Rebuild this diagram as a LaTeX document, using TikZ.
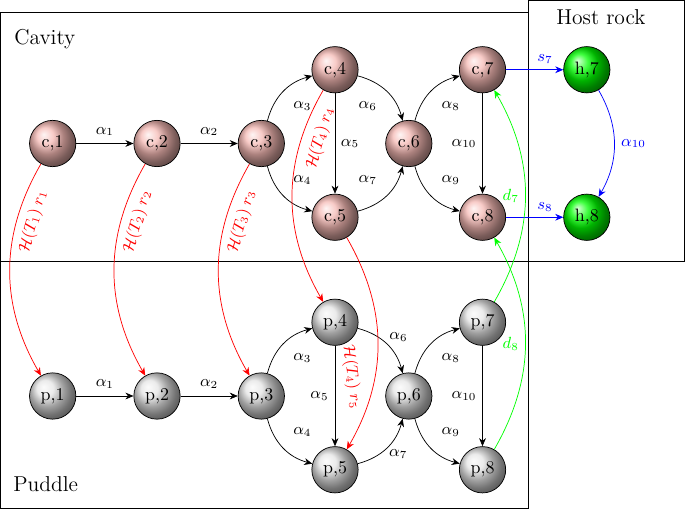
\documentclass[tikz,border=0pt]{standalone}
\usetikzlibrary{arrows.meta,shadings}
\definecolor{cavc}{RGB}{245,185,180}
\definecolor{pudc}{RGB}{228,228,228}
\definecolor{hostc}{RGB}{0,255,0}
\begin{document}
\begin{tikzpicture}[x=0.557pt,y=-0.557pt,
  >={Stealth[length=4.5pt,width=3.8pt]},
  st/.style={circle,draw,minimum size=25.8pt,inner sep=0pt,font=\normalsize},
  cav/.style={st,ball color=cavc},
  pud/.style={st,ball color=pudc},
  host/.style={st,ball color=hostc},
  lab/.style={font=\small,inner sep=0pt},
  rlab/.style={font=\small,inner sep=0pt,text=red},
  blab/.style={font=\small,inner sep=0pt,text=blue},
  glab/.style={font=\small,inner sep=0pt,text=green},
  title/.style={anchor=base west,font=\large,inner sep=0pt}]
\useasboundingbox (0,0) rectangle (685,510);
% region boxes
\draw (0.5,12.5) rectangle (528,261);
\draw (528,0.5) rectangle (684.5,261);
\draw (0.5,261) rectangle (528,508.5);
\node[title] (cavt) at (14,44.1) {Cavity};
\node[title] (pudt) at (13,491) {Puddle};
\node[title] (hostt) at (556,25) {Host rock};
% cavity nodes
\node[cav] (c1) at (52.7,143.5) {c,1};
\node[cav] (c2) at (157,143.5) {c,2};
\node[cav] (c3) at (261.3,143.5) {c,3};
\node[cav] (c4) at (335,69.75) {c,4};
\node[cav] (c5) at (335,217.25) {c,5};
\node[cav] (c6) at (408.8,143.5) {c,6};
\node[cav] (c7) at (482.5,69.75) {c,7};
\node[cav] (c8) at (482.5,217.25) {c,8};
% host nodes
\node[host] (h7) at (586.8,69.75) {h,7};
\node[host] (h8) at (586.8,217.25) {h,8};
% puddle nodes
\node[pud] (p1) at (52.7,396) {p,1};
\node[pud] (p2) at (157,396) {p,2};
\node[pud] (p3) at (261.3,396) {p,3};
\node[pud] (p4) at (335,322.25) {p,4};
\node[pud] (p5) at (335,469.75) {p,5};
\node[pud] (p6) at (408.8,396) {p,6};
\node[pud] (p7) at (482.5,322.25) {p,7};
\node[pud] (p8) at (482.5,469.75) {p,8};
% cavity edges
\draw[->] (c1) -- node[lab,shift={(0,-12)}] {$\alpha_1$} (c2);
\draw[->] (c2) -- node[lab,shift={(0,-12)}] {$\alpha_2$} (c3);
\draw[->] (c3) to[bend left=30] node[lab,shift={(19.1,14.05)}] {$\alpha_3$} (c4);
\draw[->] (c3) to[bend right=30] node[lab,shift={(19.1,-15.35)}] {$\alpha_4$} (c5);
\draw[->] (c4) -- node[lab,shift={(15,0)}] {$\alpha_5$} (c5);
\draw[->] (c4) to[bend left=30] node[lab,shift={(-19.15,14.05)}] {$\alpha_6$} (c6);
\draw[->] (c5) to[bend right=30] node[lab,shift={(-19.15,-15.35)}] {$\alpha_7$} (c6);
\draw[->] (c6) to[bend left=30] node[lab,shift={(20,14.05)}] {$\alpha_8$} (c7);
\draw[->] (c6) to[bend right=30] node[lab,shift={(20,-15.35)}] {$\alpha_9$} (c8);
\draw[->] (c7) -- node[lab,shift={(-18.5,0)}] {$\alpha_{10}$} (c8);
% puddle edges
\draw[->] (p1) -- node[lab,shift={(0,-12)}] {$\alpha_1$} (p2);
\draw[->] (p2) -- node[lab,shift={(0,-12)}] {$\alpha_2$} (p3);
\draw[->] (p3) to[bend left=30] node[lab,shift={(19.1,14.15)}] {$\alpha_3$} (p4);
\draw[->] (p3) to[bend right=30] node[lab,shift={(19.1,-15.85)}] {$\alpha_4$} (p5);
\draw[->] (p4) -- node[lab,shift={(-15.5,0)}] {$\alpha_5$} (p5);
\draw[->] (p4) to[bend left=30] node[lab,shift={(11.65,-7.15)}] {$\alpha_6$} (p6);
\draw[->] (p5) to[bend right=30] node[lab,shift={(11.45,6.45)}] {$\alpha_7$} (p6);
\draw[->] (p6) to[bend left=30] node[lab,shift={(20,14.15)}] {$\alpha_8$} (p7);
\draw[->] (p6) to[bend right=30] node[lab,shift={(20,-15.85)}] {$\alpha_9$} (p8);
\draw[->] (p7) -- node[lab,shift={(-18.5,0)}] {$\alpha_{10}$} (p8);
% host rock exchange
\draw[->,blue] (c7) -- node[blab,shift={(10.4,-10.5)}] {$s_7$} (h7);
\draw[->,blue] (c8) -- node[blab,shift={(10.4,-10)}] {$s_8$} (h8);
\draw[->,blue] (h7) to[out=-60,in=60] node[blab,shift={(19.4,0)}] {$\alpha_{10}$} (h8);
% puddle to cavity (green)
\draw[->,green] (p7) to[out=60,in=-60] node[glab,shift={(-14.5,0)}] {$d_7$} (c7);
\draw[->,green] (p8) to[out=60,in=-60] node[glab,shift={(-14.5,0)}] {$d_8$} (c8);
% cavity to puddle (red)
\draw[->,red] (c1) to[out=-120,in=120] node[rlab,pos=0.27,shift={(16.7,0)},rotate=74] {$\mathcal{H}(T_1)\;r_1$} (p1);
\draw[->,red] (c2) to[out=-120,in=120] node[rlab,pos=0.27,shift={(16.7,0)},rotate=74] {$\mathcal{H}(T_2)\;r_2$} (p2);
\draw[->,red] (c3) to[out=-120,in=120] node[rlab,pos=0.27,shift={(16.7,0)},rotate=74] {$\mathcal{H}(T_3)\;r_3$} (p3);
\draw[->,red] (c4) to[out=-120,in=120] node[rlab,pos=0.23,shift={(18.9,-0.9)},rotate=74] {$\mathcal{H}(T_4)\;r_4$} (p4);
\draw[->,red] (c5) to[out=-60,in=60] node[rlab,pos=0.66,shift={(-22.8,0)},rotate=-83] {$\mathcal{H}(T_4)\;r_5$} (p5);
\end{tikzpicture}
\end{document}
